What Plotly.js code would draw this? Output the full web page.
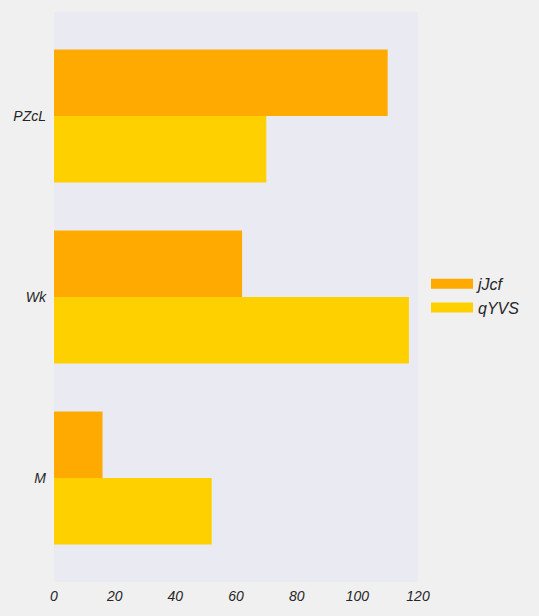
<!DOCTYPE html>
<html><head><meta charset="utf-8">
<script src="https://cdn.plot.ly/plotly-3.0.1.min.js"></script>
<style>body{margin:0;background:#F0F0F0}</style>
</head><body><div id="chart" style="width:539px;height:616px"></div>
<script>
const categories = ['PZcL', 'Wk', 'M'];
const jJcf = [110, 62, 16];
const qYVS = [70, 117, 52];
const seriesNames = ['jJcf', 'qYVS'];
const colors = ['#FFAA00', '#FFD000'];
const tickVals = [0, 20, 40, 60, 80, 100, 120];

const font = {family: 'Liberation Sans, Arial, sans-serif', size: 14, color: '#262626', style: 'italic'};
const data = [
  {type: 'bar', orientation: 'h', name: seriesNames[0], y: categories, x: jJcf, marker: {color: colors[0]}, showlegend: false},
  {type: 'bar', orientation: 'h', name: seriesNames[1], y: categories, x: qYVS, marker: {color: colors[1]}, showlegend: false},
  {type: 'scatter', mode: 'lines', name: seriesNames[0], x: [null], y: [null], line: {color: colors[0], width: 12}, showlegend: true},
  {type: 'scatter', mode: 'lines', name: seriesNames[1], x: [null], y: [null], line: {color: colors[1], width: 12}, showlegend: true}
];
const layout = {
  width: 539, height: 616,
  margin: {l: 54, r: 121, t: 12, b: 34},
  paper_bgcolor: '#F0F0F0', plot_bgcolor: '#EAEAF2',
  font: font,
  barmode: 'group', bargap: 0.265, bargroupgap: 0,
  showlegend: true,
  legend: {x: 1.022, y: 0.502, yanchor: 'middle', xanchor: 'left', font: Object.assign({}, font, {size: 16}), bgcolor: 'rgba(0,0,0,0)', itemwidth: 42},
  xaxis: {range: [0, 120], tickvals: tickVals, showgrid: false, zeroline: false, showline: false, ticks: '', tickfont: font, fixedrange: true, ticklabelstandoff: 4},
  yaxis: {type: 'category', categoryarray: categories, range: [2.575, -0.575], showgrid: false, zeroline: false, ticks: '', tickfont: font, ticklabelstandoff: 7}
};
Plotly.newPlot('chart', data, layout, {displayModeBar: false, staticPlot: true});
</script></body></html>
